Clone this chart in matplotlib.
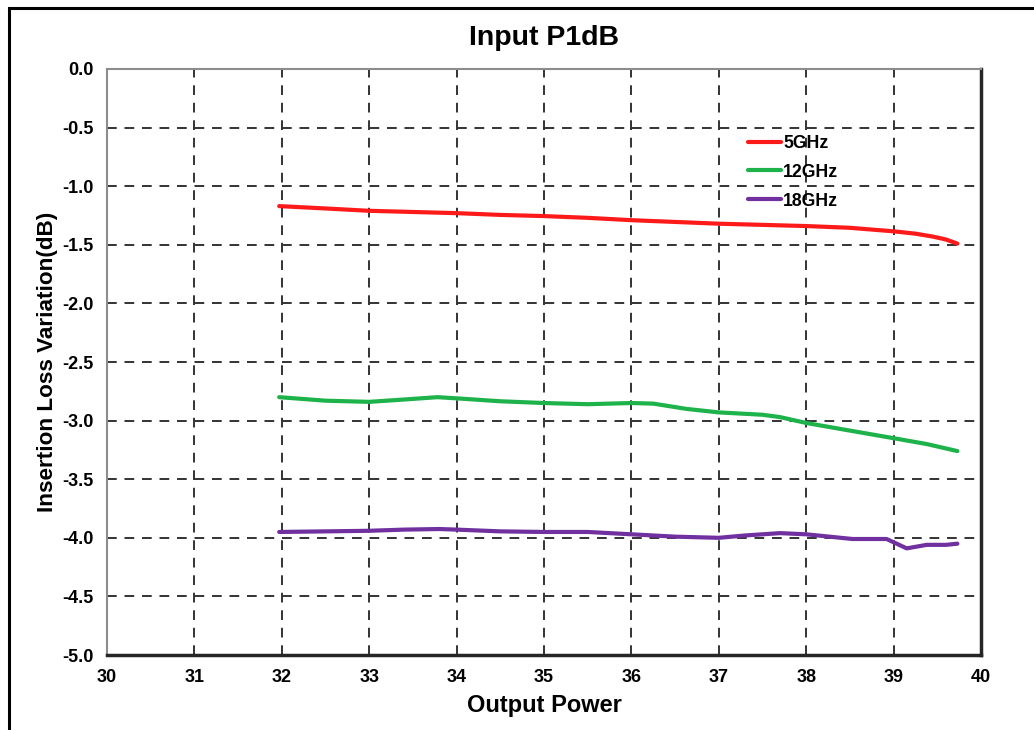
import matplotlib
matplotlib.use("Agg")
import matplotlib.pyplot as plt
from matplotlib.patches import Rectangle

plt.rcParams['font.family'] = ['Liberation Sans', 'DejaVu Sans']
plt.rcParams['axes.unicode_minus'] = False

x_5g = [31.97, 32.5, 33, 33.5, 34, 34.5, 35, 35.5, 36, 36.5, 37, 37.5, 38, 38.5, 39, 39.25, 39.45, 39.6, 39.73]
y_5g = [-1.17, -1.19, -1.21, -1.22, -1.23, -1.245, -1.255, -1.27, -1.29, -1.305, -1.32, -1.33, -1.34, -1.355, -1.385, -1.405, -1.43, -1.455, -1.49]

x_12g = [31.97, 32.5, 33, 33.4, 33.78, 34, 34.5, 35, 35.5, 36, 36.25, 36.63, 37, 37.5, 37.7, 38, 38.46, 39, 39.38, 39.73]
y_12g = [-2.80, -2.83, -2.84, -2.82, -2.80, -2.81, -2.835, -2.85, -2.86, -2.85, -2.855, -2.90, -2.93, -2.95, -2.97, -3.02, -3.08, -3.15, -3.20, -3.26]

x_18g = [31.97, 32.5, 33, 33.4, 33.8, 34, 34.5, 35, 35.5, 36, 36.5, 37, 37.3, 37.7, 38, 38.53, 38.92, 39.15, 39.38, 39.6, 39.73]
y_18g = [-3.95, -3.945, -3.94, -3.93, -3.925, -3.93, -3.945, -3.95, -3.95, -3.97, -3.99, -4.00, -3.98, -3.96, -3.97, -4.01, -4.01, -4.09, -4.06, -4.06, -4.05]

series = [
    ('5GHz', x_5g, y_5g, '#ff1a1a'),
    ('12GHz', x_12g, y_12g, '#1db34a'),
    ('18GHz', x_18g, y_18g, '#7030a0'),
]

fig = plt.figure(figsize=(10.34, 7.30), dpi=100)
ax = fig.add_axes([0.1035, 0.1027, 0.8452, 0.8028])

for name, xs, ys, col in series:
    ax.plot(xs, ys, color=col, lw=3, label=name, solid_capstyle='round')

ax.set_xlim(30, 40)
ax.set_ylim(-5.0, 0.0)
ax.set_xticks(range(30, 41))
ax.set_yticks([-5.0 + 0.5 * i for i in range(11)])
ax.yaxis.set_major_formatter(matplotlib.ticker.FormatStrFormatter('%.1f'))
ax.grid(True, color='#333333', ls=(0, (5, 4)), lw=1.4)
ax.tick_params(length=0, pad=10, labelsize=13)
for lab in ax.get_xticklabels() + ax.get_yticklabels():
    lab.set_fontweight('bold')

for side in ('left', 'top'):
    ax.spines[side].set_color('#8c8c8c')
    ax.spines[side].set_linewidth(1.5)
for side in ('right', 'bottom'):
    ax.spines[side].set_color('#262626')
    ax.spines[side].set_linewidth(2.5)

ax.set_title('Input P1dB', fontsize=20.5, fontweight='bold', pad=17)
ax.set_xlabel('Output Power', fontsize=17, fontweight='bold', labelpad=6)
ax.set_ylabel('Insertion Loss Variation(dB)', fontsize=16.2, fontweight='bold', labelpad=3)

leg = ax.legend(loc='upper left', bbox_to_anchor=(0.715, 0.915), frameon=False,
                handlelength=1.9, handletextpad=0.1, labelspacing=0.68,
                prop={'size': 12.7, 'weight': 'bold'})

fig.patches.append(Rectangle((9 / 1034, -0.1), 1.2, 0.1 + 1 - 8 / 730,
                             transform=fig.transFigure, fill=False,
                             ec='black', lw=2.2))

fig.savefig('out.png', dpi=100)
